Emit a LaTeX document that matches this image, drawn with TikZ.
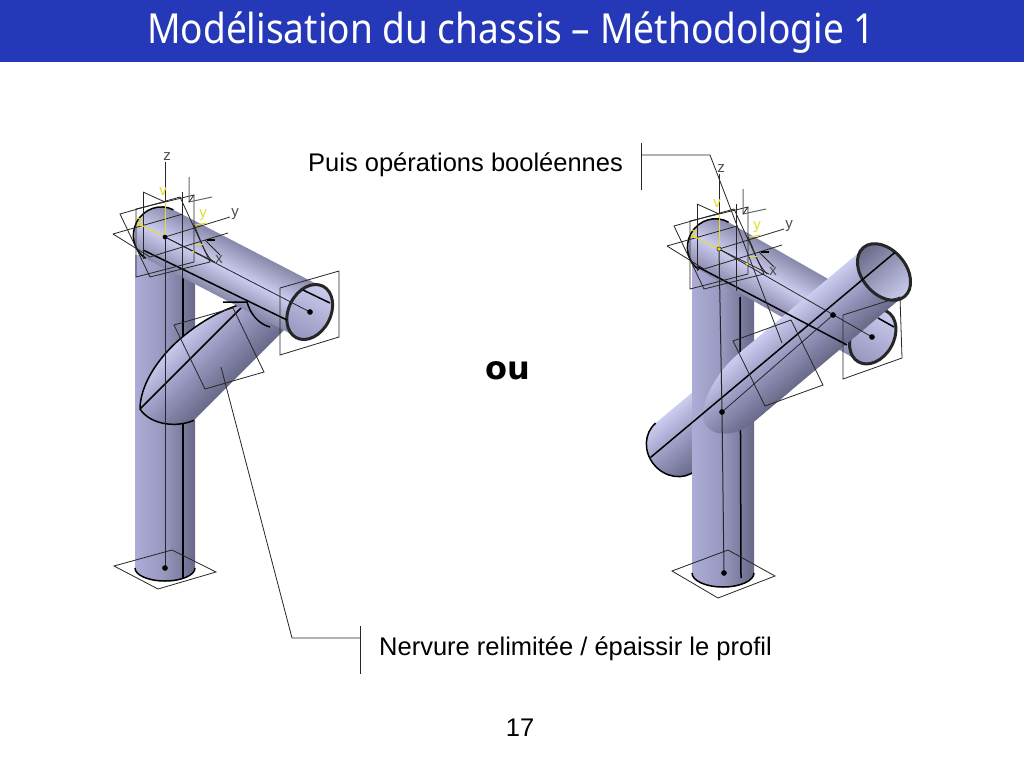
\documentclass[tikz,border=0pt]{standalone}
\usepackage{fontspec}
\setmainfont{Liberation Sans}
\newfontfamily\titlefont{Noto Sans}
\newfontfamily\oufont{DejaVu Sans}
\definecolor{bar}{RGB}{37,56,184}
\definecolor{steel}{RGB}{172,172,214}
\definecolor{steel mid}{RGB}{150,150,190}
\definecolor{steel dark}{RGB}{104,104,136}
\definecolor{steel light}{RGB}{204,204,240}
\definecolor{steel edge}{RGB}{136,136,170}
\definecolor{axis yellow}{RGB}{226,220,40}

\begin{document}
\begin{tikzpicture}[x=1pt, y=-1pt,
		  wire/.style={black!85, line width=0.8pt},
		  edge/.style={black, line width=1.5pt},
		  rim/.style={draw=black!85, line width=3pt},
		  column/.style={left color=steel, right color=steel dark, middle color=steel mid},
		  pipe/.style={top color=steel edge, bottom color=steel edge, middle color=steel light},
		  branch/.style={top color=steel light, bottom color=steel dark, middle color=steel mid},
		  inside/.style={top color=steel dark, bottom color=steel light},
		  dot/.style={circle, fill=black, inner sep=2pt},
		  label/.style={font=\fontsize{25.5}{28}\selectfont, inner sep=0pt},
		  tag/.style={font=\fontsize{15}{17}\selectfont, inner sep=0pt, black!70},
		  ytag/.style={font=\fontsize{15}{17}\selectfont, inner sep=0pt, axis yellow}]
		  \useasboundingbox (0,0) rectangle (1024,768);
		  \fill[white] (0,0) rectangle (1024,768);
		  \fill[bar] (0,0) rectangle (1024,62);
		  \node[font=\titlefont\fontsize{36}{40}\selectfont, text=white, inner sep=0pt] (title) at (511,33) {\scalebox{1.03}[1.15]{Modélisation du chassis – Méthodologie 1}};
		  \node[label, anchor=west] (puis) at (308,165) {Puis opérations booléennes};
		  \node[label, anchor=west] (nervure) at (379,649) {Nervure relimitée / épaissir le profil};
		  \node[font=\oufont\bfseries\fontsize{32}{36}\selectfont, inner sep=0pt] (ou) at (508,371) {ou};
		  \node[label] (page) at (520,728) {17};
		  % left part
		  \shade[column] (135,255) -- (135,568) arc[start angle=180, end angle=360, x radius=30pt, y radius=13pt] -- (195,255) -- cycle;
		  \draw[edge] (135,568) arc[start angle=180, end angle=360, x radius=30pt, y radius=13pt];
		  \draw[edge] (183,272) -- (183,579);
		  \begin{scope}[transform canvas={shift={(140,409)}, rotate=45}]
		      \shade[branch] (0,0) .. controls (15,-15) and (45,-24) .. (80,-21) .. controls (105,-19) and (130,-12) .. (150,0) -- (170,0) -- (170,46) -- (30,46) .. controls (14,40) and (-4,20) .. (0,0);
		      \draw[edge] (30,46) .. controls (14,40) and (-4,20) .. (0,0) .. controls (15,-15) and (45,-24) .. (80,-21) .. controls (105,-19) and (130,-12) .. (150,0) -- (0,0);
		  \end{scope}
		  \begin{scope}[transform canvas={shift={(165,237)}, rotate=-27.4}]
		      \shade[pipe] (-5,-28) arc[start angle=90, end angle=270, x radius=27pt, y radius=28pt] -- (163,28) -- (163,-28) -- cycle;
		      \draw[edge] (-5,-28) arc[start angle=90, end angle=265, x radius=27pt, y radius=28pt];
		      \shade[top color=steel light, bottom color=steel mid] (163,0) ellipse[x radius=21pt, y radius=29pt];
		      \draw[rim] (163,0) ellipse[x radius=21pt, y radius=29pt];
		  \end{scope}
		  \draw[edge] (143,250) -- (287,320);
		  \draw[edge] (223,302) -- (247,302) .. controls (250,313) and (258,324) .. (270,327);
		  \draw[edge] (303,290) -- (330,303);
		  \draw[wire] (165,237) -- (310,312);
		  \draw[wire] (280,288) -- (339,271) -- (339,337) -- (280,355) -- cycle;
		  \draw[wire] (174,325) -- (233,308) -- (264,372) -- (205,389) -- cycle;
		  \draw[wire] (114,566) -- (172,550) -- (216,572) -- (158,589) -- cycle;
		  \draw[wire, line width=1pt] (165,237) -- (165,568);
		  \node[dot] (endl) at (310,312) {};
		  \node[dot] (basel) at (165,568) {};
		  \coordinate (nervtop) at (221,367);
		  \coordinate (nervbend) at (292,638);
		  \coordinate (nervtick) at (360,638);
		  \draw[wire] (nervtop) -- (nervbend) -- (nervtick);
		  \draw[wire] (360,626) -- (360,674);
		  % right part
		  \begin{scope}[transform canvas={shift={(884,272)}, rotate=40}]
		      \shade[branch] (-150,-31) -- (-272,-31) arc[start angle=90, end angle=270, x radius=28pt, y radius=31pt] -- (-150,31) -- cycle;
		      \draw[edge] (-272,-31) arc[start angle=90, end angle=270, x radius=28pt, y radius=31pt];
		  \end{scope}
		  \shade[column] (692,265) -- (692,573) arc[start angle=180, end angle=360, x radius=31pt, y radius=14pt] -- (754,265) -- cycle;
		  \draw[edge] (692,573) arc[start angle=180, end angle=360, x radius=31pt, y radius=14pt];
		  \draw[edge] (740,297) -- (741,578);
		  \begin{scope}[transform canvas={shift={(719,249)}, rotate=-29.7}]
		      \shade[pipe] (-5,-28) arc[start angle=90, end angle=270, x radius=27pt, y radius=28pt] -- (177,28) -- (177,-28) -- cycle;
		      \draw[edge] (-5,-28) arc[start angle=90, end angle=265, x radius=27pt, y radius=28pt];
		      \shade[top color=steel light, bottom color=steel mid] (177,0) ellipse[x radius=21pt, y radius=29pt];
		      \draw[rim] (177,0) ellipse[x radius=21pt, y radius=29pt];
		  \end{scope}
		  \begin{scope}[transform canvas={shift={(884,272)}, rotate=40}]
		      \shade[branch] (0,-31) -- (-165,-31) .. controls (-195,-31) and (-235,-15) .. (-235,5) .. controls (-235,20) and (-215,31) .. (-199,31) -- (0,31) -- cycle;
		      \shade[inside] (0,0) ellipse[x radius=22pt, y radius=32pt];
		      \draw[rim] (0,0) ellipse[x radius=22pt, y radius=32pt];
		      \draw[edge] (21,-8) -- (-298,-8);
		  \end{scope}
		  \draw[edge] (698,267) -- (847,345);
		  \draw[edge] (878,318) -- (894,327);
		  \draw[wire] (719,249) -- (872,337);
		  \draw[wire] (833,315) -- (722,412);
		  \draw[wire] (843,315) -- (900,297) -- (902,358) -- (843,379) -- cycle;
		  \draw[wire] (733,341) -- (791,320) -- (823,385) -- (765,406) -- cycle;
		  \draw[wire] (672,571) -- (728,550) -- (775,576) -- (718,598) -- cycle;
		  \draw[wire, line width=1pt] (719,249) -- (722,412) -- (724,573);
		  \node[dot] (endr) at (872,337) {};
		  \node[dot] (midr) at (833,315) {};
		  \node[dot] (lowr) at (722,412) {};
		  \node[dot] (baser) at (724,573) {};
		  \coordinate (puistop) at (782,343);
		  \coordinate (puisbend) at (710,155);
		  \coordinate (puistick) at (641,155);
		  \draw[wire] (puistop) -- (puisbend) -- (puistick);
		  \draw[wire] (641,143) -- (641,190);
		  % frames at the top of both parts
		  \foreach \ox/\oy/\n/\c in {165/237/l/black, 719/249/r/axis yellow}{
		      \begin{scope}[shift={(\ox,\oy)}]
		          \draw[wire] (-45,-23) -- (15,-40) -- (45,25) -- (-15,40) -- cycle;
		          \draw[wire] (-29,-28) -- (29,-42) -- (29,25) -- (-29,40) -- cycle;
		          \draw[wire] (-22,-45) -- (0,-35);
		          \draw[wire] (-22,-45) -- (-22,22);
		          \draw[wire] (17,-45) -- (17,42);
		          \draw[wire] (-52,-3) -- (18,-23);
		          \draw[wire] (-52,-3) -- (-15,20) -- (63,-4);
		          \draw[wire] (0,0) -- (65,-20);
		          \draw[wire] (0,0) -- (50,25);
		          \draw[wire, line width=1pt] (0,-75) -- (0,0);
		          \draw[wire, black!60, line width=1pt] (24,-60) -- (24,-35) -- (47,-40);
		          \draw[wire] (29,-42) -- (24,-35);
		          \draw[wire] (29,-12) .. controls (35,0) and (38,15) .. (48,25);
		          \draw[edge] (42,3) -- (50,3);
		          \draw[wire] (40,3) -- (55,18);
		          \draw[axis yellow, line width=1pt] (0,0) -- (0,-35);
		          \draw[axis yellow, line width=1pt] (0,0) -- (-28,-14);
		          \draw[axis yellow, line width=1pt] (30,-12) -- (42,-14);
		          \draw[axis yellow, line width=1pt] (30,7) -- (38,7);
		          \fill[axis yellow] (28,15) circle (1.5pt);
		          \node[circle, fill=\c, draw=black, inner sep=1.5pt] (o\n) at (0,0) {};
		          \node[tag] (z\n) at (2,-80) {z};
		          \node[tag] (y\n) at (70,-23) {y};
		          \node[tag] (x\n) at (54,23) {x};
		          \node[ytag] (v\n) at (-2,-45) {v};
		          \node[ytag] (w\n) at (38,-22) {y};
		          \node[ytag] (u\n) at (-25,-14) {z};
		      \end{scope}
		  }
\end{tikzpicture}
\end{document}
